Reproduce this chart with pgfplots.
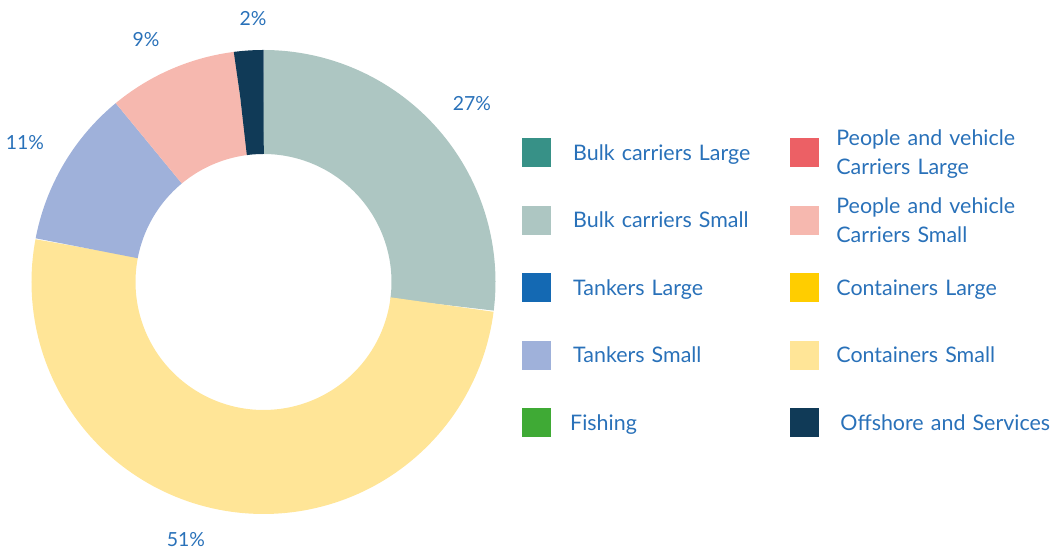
\documentclass[border=0pt]{standalone}
\usepackage{pgfplots}
\pgfplotsset{compat=1.18}
\usepackage{fontspec}
\setmainfont{Lato}
\definecolor{txt}{RGB}{41,113,185}
\definecolor{bcl}{HTML}{379187}
\definecolor{bcs}{HTML}{ADC6C2}
\definecolor{tl}{HTML}{1469B3}
\definecolor{ts}{HTML}{9FB1DA}
\definecolor{fi}{HTML}{3FAA35}
\definecolor{pvl}{HTML}{EC6065}
\definecolor{pvs}{HTML}{F6B8AF}
\definecolor{cl}{HTML}{FFCD00}
\definecolor{cs}{HTML}{FFE597}
\definecolor{os}{HTML}{103A57}
\newcommand\twol[2]{\raisebox{29bp}{\parbox[t]{217bp}{\raggedright\hspace*{-5bp}#1\newline\hspace*{-5bp}#2}}}
\begin{document}
\begin{tikzpicture}
\begin{axis}[
  x=1bp, y=1bp, xmin=0, xmax=1054, ymin=0, ymax=551,
  hide axis, clip=false,
  legend image code/.code={\fill[#1, draw=none] (0bp,-14.5bp) rectangle (29bp,14.5bp); \path (51bp,0bp);},
  legend columns=2,
  legend style={at={(axis cs:522,431.75)}, anchor=north west, draw=none, fill=none,
    inner sep=0pt, outer sep=0pt, row sep=0pt, column sep=0pt,
    font=\fontsize{21.5}{29}\selectfont, text=txt,
    nodes={inner sep=0pt, outer sep=0pt, minimum height=67.5bp, text width=217bp, align=left},
    cells={anchor=west}},
]
\def\cum{0}
\pgfplotsforeachungrouped \v/\c in {27/bcs, 51/cs, 11/ts, 9/pvs, 2/os} {
  \pgfmathsetmacro\a{90-3.6*\cum}
  \pgfmathsetmacro\cum{\cum+\v}
  \pgfmathsetmacro\b{90-3.6*\cum}
  \edef\temp{\noexpand\addplot[forget plot, draw=\c, line width=104bp, line cap=butt, domain=\b:\a, samples=120] ({263.5+180*cos(x)},{269+180*sin(x)});}
  \temp
}
\begin{scope}[every node/.style={text=txt, font=\fontsize{19.5}{24}\selectfont}]
\node at (axis cs:472,447) {27\%};
\node at (axis cs:186,11) {51\%};
\node at (axis cs:25,408) {11\%};
\node at (axis cs:146,511) {9\%};
\node at (axis cs:253,532) {2\%};
\end{scope}
\addlegendimage{fill=bcl}\addlegendentry{Bulk carriers Large}
\addlegendimage{fill=pvl}\addlegendentry{\twol{People and vehicle}{Carriers Large}}
\addlegendimage{fill=bcs}\addlegendentry{Bulk carriers Small}
\addlegendimage{fill=pvs}\addlegendentry{\twol{People and vehicle}{Carriers Small}}
\addlegendimage{fill=tl}\addlegendentry{Tankers Large}
\addlegendimage{fill=cl}\addlegendentry{\hspace*{-5bp}Containers Large}
\addlegendimage{fill=ts}\addlegendentry{Tankers Small}
\addlegendimage{fill=cs}\addlegendentry{\hspace*{-5bp}Containers Small}
\addlegendimage{fill=fi}\addlegendentry{\hspace*{-3bp}Fishing}
\addlegendimage{fill=os}\addlegendentry{\hspace*{-1bp}Offshore and Services}
\end{axis}
\pgfresetboundingbox
\useasboundingbox (current axis.south west) rectangle (current axis.north east);
\end{tikzpicture}
\end{document}
